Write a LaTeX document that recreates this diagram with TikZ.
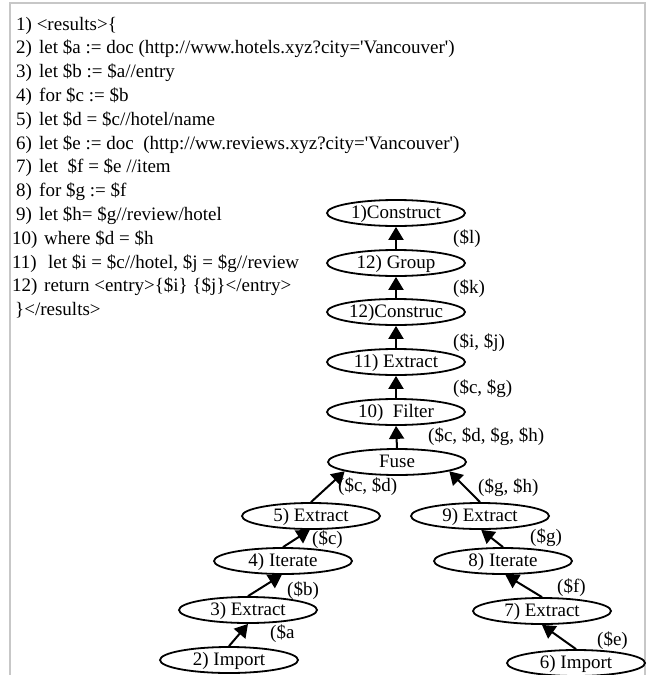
\documentclass[tikz,border=0pt]{standalone}
\usepackage{fontspec}
\setmainfont{Liberation Serif}
\usetikzlibrary{shapes.geometric,arrows.meta}
\begin{document}
\begin{tikzpicture}[x=1pt,y=-1pt,
  op/.style={draw, ellipse, line width=1.8pt, minimum width=138pt, minimum height=26pt,
    inner sep=0pt, text height=11pt, text depth=1pt, font=\fontsize{19}{22}\selectfont},
  lbl/.style={anchor=base west, inner sep=0pt, font=\fontsize{19}{22}\selectfont},
  code/.style={anchor=base west, inner sep=0pt, font=\fontsize{19}{22}\selectfont},
  arr/.style={line width=2pt, -{Triangle[width=15pt,length=13pt]}},
  frameline/.style={draw=black!22, line width=1.6pt}]
\useasboundingbox (0,0) rectangle (647,675);
% frame
\coordinate (fbl) at (10,675);
\coordinate (ftl) at (10,3);
\coordinate (ftr) at (645,3);
\coordinate (fbr) at (645,675);
\draw[frameline] (fbl) -- (ftl) -- (ftr) -- (fbr);
% code listing
\node[code] (l1) at (16,30) {1) <results>\{};
\node[code] (n2) at (16,53.8) {2)};  \node[code] (t2) at (39,53.8) {let \$a := doc (http://www.hotels.xyz?city=\textquotesingle Vancouver\textquotesingle)};
\node[code] (n3) at (16,77.6) {3)};    \node[code] (t3) at (39,77.6) {let \$b := \$a//entry};
\node[code] (n4) at (16,101.4) {4)}; \node[code] (t4) at (39,101.4) {for \$c := \$b};
\node[code] (n5) at (16,125.2) {5)};   \node[code] (t5) at (39,125.2) {let \$d = \$c//hotel/name};
\node[code] (n6) at (16,149) {6)}; \node[code] (t6) at (39,149) {let \$e := doc\ \ (http://ww.reviews.xyz?city=\textquotesingle Vancouver\textquotesingle)};
\node[code] (n7) at (16,172.8) {7)};   \node[code] (t7) at (39,172.8) {let\ \ \$f = \$e //item};
\node[code] (n8) at (16,196.6) {8)}; \node[code] (t8) at (39,196.6) {for \$g := \$f};
\node[code] (n9) at (16,220.4) {9)};   \node[code] (t9) at (39,220.4) {let \$h= \$g//review/hotel};
\node[code] (n10) at (12,244.2) {10)}; \node[code] (t10) at (44,244.2) {where \$d = \$h};
\node[code] (n11) at (12,268) {11)};   \node[code] (t11) at (48,268) {let \$i = \$c//hotel, \$j = \$g//review};
\node[code] (n12) at (12,291.8) {12)}; \node[code] (t12) at (44,291.8) {return <entry>\{\$i\} \{\$j\}</entry>};
\node[code] (l13) at (15,315.6) {\}</results>};
% operator nodes
\node[op] (c1) at (396,213) {1)Construct};
\node[op] (grp) at (396,263) {12) Group};
\node[op] (c12) at (396,312) {12)Construc};
\node[op] (e11) at (396,362) {11) Extract};
\node[op] (f10) at (396,412) {10)\ \ Filter};
\node[op] (fuse) at (397,462) {Fuse};
\node[op] (e5) at (311,516) {5) Extract};
\node[op] (i4) at (283,561) {4) Iterate};
\node[op] (e3) at (248,610) {3) Extract};
\node[op] (i2) at (229,660) {2) Import};
\node[op] (e9) at (480,516) {9) Extract};
\node[op] (i8) at (503,561) {8) Iterate};
\node[op] (e7) at (542,611) {7) Extract};
\node[op] (i6) at (576,663) {6) Import};
% arrows
\draw[arr] (grp.north) -- (c1.south);
\draw[arr] (c12.north) -- (grp.south);
\draw[arr] (e11.north) -- (c12.south);
\draw[arr] (f10.north) -- (e11.south);
\draw[arr] (fuse.north) -- (f10.south);
\draw[arr] (e5.north) -- (fuse.190);
\draw[arr] (i4.north) -- (e5.265);
\draw[arr] (e3.north) -- (i4.265);
\draw[arr] (i2.north) -- (e3.south);
\draw[arr] (e9.north) -- (fuse.350);
\draw[arr] (i8.north) -- (e9.275);
\draw[arr] (e7.north) -- (i8.280);
\draw[arr] (i6.north) -- (e7.south);
% edge labels
\node[lbl] (la) at (453,243) {(\$l)};
\node[lbl] (lb) at (453,293) {(\$k)};
\node[lbl] (lc) at (453,347) {(\$i, \$j)};
\node[lbl] (ld) at (453,393) {(\$c, \$g)};
\node[lbl] (le) at (428,441) {(\$c, \$d, \$g, \$h)};
\node[lbl] (lf) at (338,491) {(\$c, \$d)};
\node[lbl] (lg) at (478,492) {(\$g, \$h)};
\node[lbl] (lh) at (312,544) {(\$c)};
\node[lbl] (li) at (530,542) {(\$g)};
\node[lbl] (lj) at (287,595) {(\$b)};
\node[lbl] (lk) at (557,592) {(\$f)};
\node[lbl] (ll) at (270,638) {(\$a};
\node[lbl] (lm) at (597,645) {(\$e)};
\end{tikzpicture}
\end{document}
